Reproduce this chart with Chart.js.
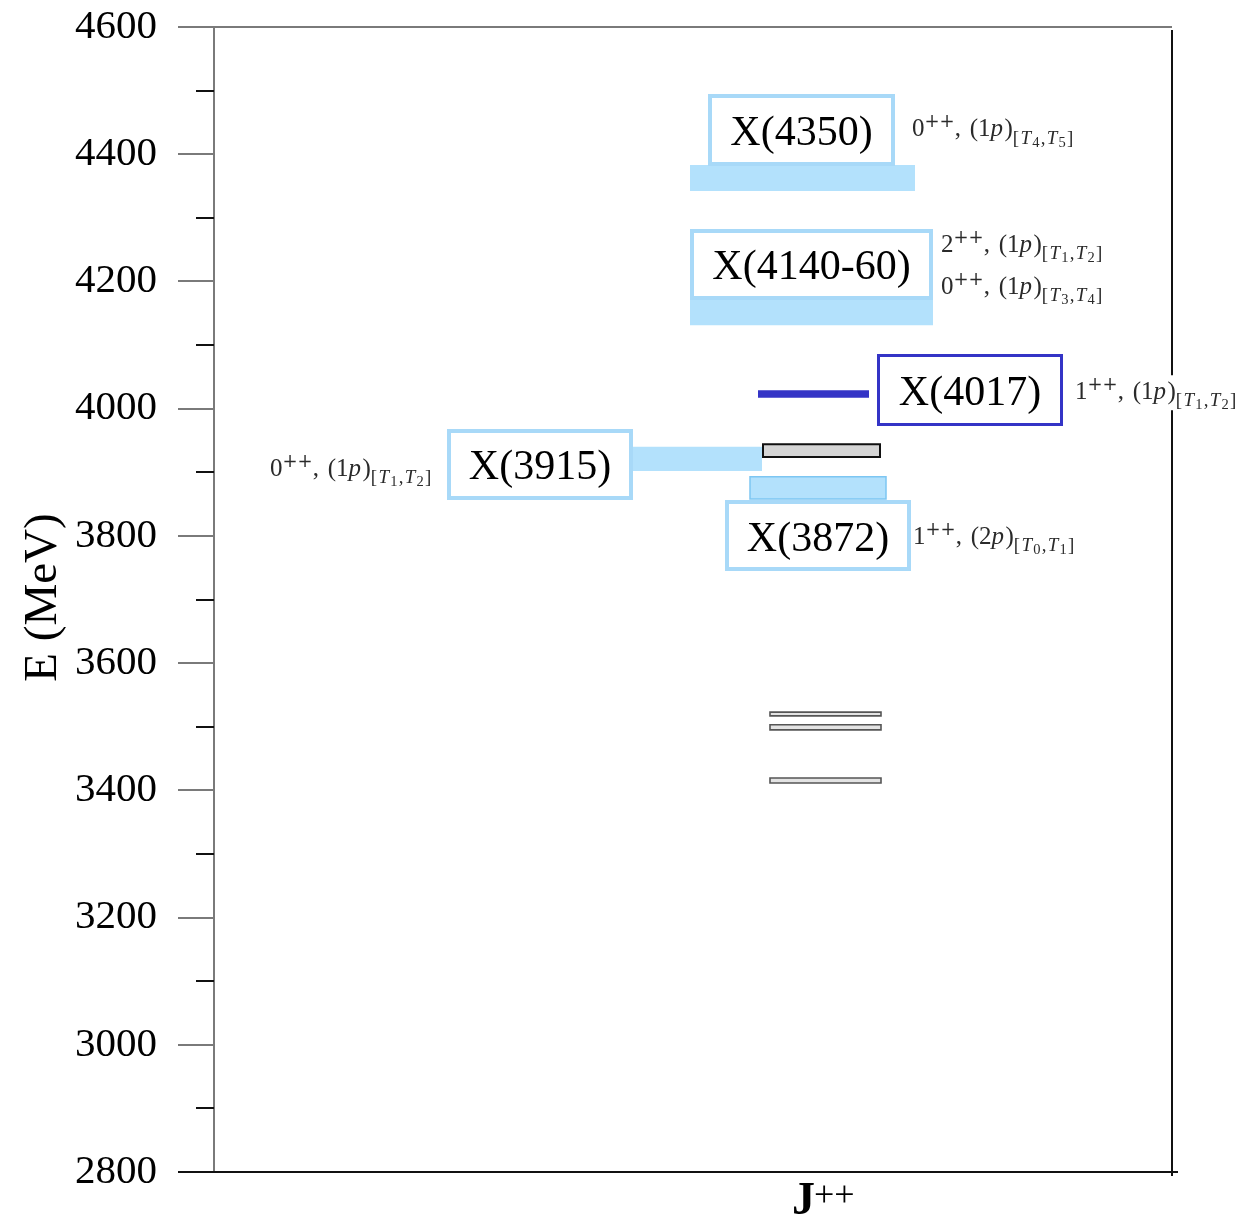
<!DOCTYPE html>
<html>
<head>
<meta charset="utf-8">
<script src="https://cdn.jsdelivr.net/npm/chart.js@4/dist/chart.umd.min.js"></script>
<style>
  html, body { margin: 0; padding: 0; background: #fff; }
  #wrap { width: 1242px; height: 1229px; }
</style>
</head>
<body>
<div id="wrap"><canvas id="c" width="1242" height="1229"></canvas></div>
<script>
// ---- Energy axis (MeV) ----
const yMin = 2800, yMax = 4600;
const tickValues = [2800, 3000, 3200, 3400, 3600, 3800, 4000, 4200, 4400, 4600];
const minorTickValues = [2900, 3100, 3300, 3500, 3700, 3900, 4100, 4300, 4500];

// ---- Observed states and their mass bands (MeV) ----
const stateNames = ['X(4350)', 'X(4140-60)', 'X(4017)', 'X(3915)', 'X(3872)'];
const stateLow  = [4342, 4131, 4017, 3902, 3858];
const stateHigh = [4383, 4171, 4029, 3940, 3893];

// ---- Quantum-number assignments beside each state ----
const assignments = [
  ['0^{++}, (1p)_{[T_4,T_5]}'],
  ['2^{++}, (1p)_{[T_1,T_2]}', '0^{++}, (1p)_{[T_3,T_4]}'],
  ['1^{++}, (1p)_{[T_1,T_2]}'],
  ['0^{++}, (1p)_{[T_1,T_2]}'],
  ['1^{++}, (2p)_{[T_0,T_1]}']
];

// ---- Computed levels (MeV) ----
const levelLow  = [3924, 3517, 3495, 3411.5];
const levelHigh = [3944, 3523, 3503, 3419.5];

// ---- Placement on the J++ column (x in axis units 0..958, y in MeV) ----
const layout = {
  bandX: [[476, 701], [476, 719], [544, 655], [414, 548], [536, 672]],
  boxX:  [[496, 679], [478, 717], [664.5, 847.5], [235, 417], [513, 695]],
  boxY:  [[4384.6, 4491.5], [4174, 4279.3], [3975.1, 4083.6], [3859.6, 3964.9], [3747.9, 3853.3]],
  labelAt: [
    [[698, 4428.6]],
    [[727, 4246.3], [727, 4180.3]],
    [[861, 4015.2]],
    [[56, 3894.2]],
    [[699, 3787.3]]
  ],
  levelX: [[549, 666], [556, 667], [556, 667], [556, 667]]
};

const LIGHT_FILL = 'rgb(179,225,252)';
const LIGHT_EDGE = 'rgb(168,217,248)';
const DARK_BLUE = '#3434c6';
const SERIF = '"Liberation Serif", "Times New Roman", serif';

const bandStyle = [
  { fill: LIGHT_FILL, edge: 'rgba(0,0,0,0)', w: 0 },
  { fill: LIGHT_FILL, edge: 'rgba(0,0,0,0)', w: 0 },
  { fill: DARK_BLUE,  edge: 'rgba(0,0,0,0)', w: 0 },
  { fill: LIGHT_FILL, edge: 'rgba(0,0,0,0)', w: 0 },
  { fill: LIGHT_FILL, edge: 'rgb(125,198,242)', w: 1.5 }
];
const boxStyle = [
  { edge: LIGHT_EDGE, w: 4 },
  { edge: LIGHT_EDGE, w: 4 },
  { edge: DARK_BLUE,  w: 3 },
  { edge: LIGHT_EDGE, w: 4 },
  { edge: LIGHT_EDGE, w: 4 }
];
const levelStyle = [
  { fill: '#d5d5d5', edge: '#111', w: 2 },
  { fill: '#e3e3e3', edge: '#555', w: 1.6 },
  { fill: '#e3e3e3', edge: '#555', w: 1.6 },
  { fill: '#e3e3e3', edge: '#555', w: 1.6 }
];

function rect(x0, x1, lo, hi) {
  return [{x: x0, y: lo}, {x: x1, y: lo}, {x: x1, y: hi}, {x: x0, y: hi}, {x: x0, y: lo}];
}
function shapeDataset(data, fill, edge, w, order) {
  return {
    data, fill: 'shape', backgroundColor: fill, borderColor: edge, borderWidth: w,
    pointRadius: 0, tension: 0, order, borderJoinStyle: 'miter', borderCapStyle: 'square'
  };
}

const datasets = [];
stateNames.forEach((n, i) => {
  const [x0, x1] = layout.bandX[i];
  const s = bandStyle[i];
  datasets.push(shapeDataset(rect(x0, x1, stateLow[i], stateHigh[i]), s.fill, s.edge, s.w, 3));
});
levelLow.forEach((lo, i) => {
  const [x0, x1] = layout.levelX[i];
  const s = levelStyle[i];
  datasets.push(shapeDataset(rect(x0, x1, lo, levelHigh[i]), s.fill, s.edge, s.w, 2));
});
stateNames.forEach((n, i) => {
  const [x0, x1] = layout.boxX[i];
  const [lo, hi] = layout.boxY[i];
  const s = boxStyle[i];
  datasets.push(shapeDataset(rect(x0, x1, lo, hi), '#ffffff', s.edge, s.w, 1));
});

// ---- tiny math-text renderer: ^{..} superscript, _{..} subscript, latin letters italic ----
const LEVELS = {
  '0':  { size: 1.0,  shift: 0 },
  '1':  { size: 0.72, shift: -0.36 },
  '-1': { size: 0.76, shift: 0.30 },
  '-2': { size: 0.58, shift: 0.42 }
};
function parseMath(src) {
  const out = [];
  (function walk(str, level) {
    let k = 0;
    while (k < str.length) {
      const ch = str[k];
      if (ch === '^' || ch === '_') {
        const lv = ch === '^' ? level + 1 : level - 1;
        k++;
        let grp;
        if (str[k] === '{') {
          let depth = 1, j = k + 1;
          while (j < str.length && depth) {
            if (str[j] === '{') depth++;
            else if (str[j] === '}') depth--;
            j++;
          }
          grp = str.slice(k + 1, j - 1);
          k = j;
        } else { grp = str[k]; k++; }
        walk(grp, lv);
      } else {
        out.push({ ch, level, italic: /[A-Za-z]/.test(ch) });
        k++;
      }
    }
  })(src, 0);
  return out;
}
function layoutMath(ctx, str, base) {
  const segs = parseMath(str);
  let w = 0;
  for (const s of segs) {
    const st = LEVELS[String(s.level)];
    const fam = s.ch === '+' ? '"DejaVu Serif", serif' : SERIF;
    s.font = (s.italic ? 'italic ' : '') + (base * st.size) + 'px ' + fam;
    s.dy = base * st.shift;
    ctx.font = s.font;
    s.dx = w;
    let extra = 0;
    if (s.ch === ',' && s.level === 0) extra = base * 0.1;
    if (s.level < 0) extra = base * 0.05;
    if (s.italic && s.level === 0) extra = base * 0.06;
    w += ctx.measureText(s.ch).width + extra;
  }
  return { segs, width: w };
}
function drawMath(ctx, str, x, y, base, color) {
  const m = layoutMath(ctx, str, base);
  ctx.fillStyle = '#ffffff';
  ctx.fillRect(x, y - base * 0.95, m.width, base * 1.4);
  ctx.fillStyle = color;
  ctx.textBaseline = 'alphabetic';
  ctx.textAlign = 'left';
  for (const s of m.segs) {
    ctx.font = s.font;
    ctx.fillText(s.ch, x + s.dx, y + s.dy);
  }
}

const decorations = {
  id: 'decorations',
  afterDraw(chart) {
    const ctx = chart.ctx;
    const xs = chart.scales.x, ys = chart.scales.y;
    const area = chart.chartArea;
    ctx.save();

    // frame: top (grey), right and bottom (black)
    ctx.lineWidth = 2;
    ctx.strokeStyle = '#7a7a7a';
    ctx.beginPath();
    ctx.moveTo(area.left, area.top); ctx.lineTo(area.right, area.top);
    ctx.stroke();
    ctx.strokeStyle = '#111';
    ctx.beginPath();
    ctx.moveTo(area.right, area.top + 3); ctx.lineTo(area.right, area.bottom + 4);
    ctx.moveTo(area.left - 36, area.bottom); ctx.lineTo(area.right + 6, area.bottom);
    ctx.stroke();

    // minor ticks on the energy axis
    ctx.strokeStyle = '#111';
    ctx.lineWidth = 2;
    ctx.beginPath();
    for (const v of minorTickValues) {
      const py = Math.round(ys.getPixelForValue(v));
      ctx.moveTo(area.left - 18, py); ctx.lineTo(area.left, py);
    }
    ctx.stroke();

    // state names inside their boxes
    ctx.fillStyle = '#000';
    ctx.textAlign = 'center';
    ctx.textBaseline = 'alphabetic';
    ctx.font = '42px ' + SERIF;
    stateNames.forEach((n, i) => {
      const [x0, x1] = layout.boxX[i];
      const [lo, hi] = layout.boxY[i];
      const cx = (xs.getPixelForValue(x0) + xs.getPixelForValue(x1)) / 2;
      const cy = (ys.getPixelForValue(lo) + ys.getPixelForValue(hi)) / 2;
      ctx.fillText(n, cx, cy + 15);
    });

    // quantum-number assignments
    assignments.forEach((list, i) => {
      list.forEach((str, j) => {
        const [ux, e] = layout.labelAt[i][j];
        drawMath(ctx, str, xs.getPixelForValue(ux), ys.getPixelForValue(e), 25, '#2a2a2a');
      });
    });

    // axis titles
    ctx.fillStyle = '#000';
    ctx.save();
    ctx.translate(56, (area.top + area.bottom) / 2 - 2);
    ctx.rotate(-Math.PI / 2);
    ctx.textAlign = 'center';
    ctx.textBaseline = 'alphabetic';
    ctx.font = '47px ' + SERIF;
    ctx.fillText('E (MeV)', 0, 0);
    ctx.restore();

    ctx.textAlign = 'left';
    ctx.font = 'bold 46px ' + SERIF;
    ctx.fillText('J', 792, 1214);
    ctx.font = '36px ' + SERIF;
    ctx.fillText('++', 814, 1206);

    ctx.restore();
  }
};

new Chart(document.getElementById('c'), {
  type: 'line',
  data: { datasets },
  options: {
    responsive: false,
    animation: false,
    events: [],
    layout: { padding: { left: 0, top: 27, right: 70, bottom: 0 } },
    plugins: { legend: { display: false }, tooltip: { enabled: false }, title: { display: false } },
    scales: {
      x: {
        type: 'linear', min: 0, max: 958,
        ticks: { display: false },
        grid: { display: false, drawTicks: false },
        border: { display: true, color: '#111', width: 2 },
        afterFit(s) { s.height = 57; s.paddingLeft = 0; s.paddingRight = 0; }
      },
      y: {
        type: 'linear', min: yMin, max: yMax,
        afterBuildTicks(s) { s.ticks = tickValues.map(v => ({ value: v })); },
        ticks: { font: { family: SERIF, size: 41 }, color: '#000', padding: 21, callback: v => String(v) },
        grid: { drawOnChartArea: false, tickLength: 36, color: '#7a7a7a', lineWidth: 2 },
        border: { display: true, color: '#7a7a7a', width: 2 },
        afterFit(s) { s.width = 214; s.paddingTop = 0; s.paddingBottom = 0; }
      }
    }
  },
  plugins: [decorations]
});
</script>
</body>
</html>
